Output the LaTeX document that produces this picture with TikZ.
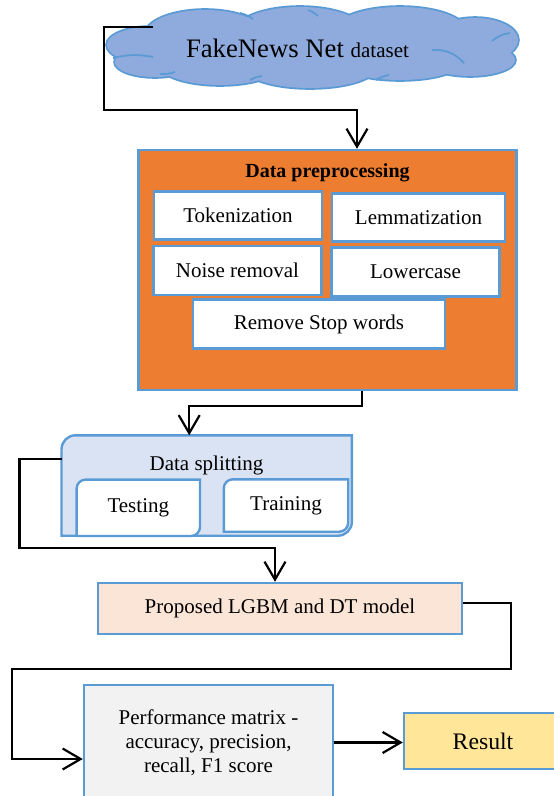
\documentclass[tikz,border=0pt]{standalone}
\usepackage{fontspec}
\setmainfont{Liberation Serif}
\usetikzlibrary{arrows.meta,backgrounds}

\definecolor{edgeblue}{HTML}{5B9BD5}
\definecolor{cloudfill}{HTML}{8FAADC}
\definecolor{prepfill}{HTML}{ED7D31}
\definecolor{splitfill}{HTML}{DAE3F3}
\definecolor{modelfill}{HTML}{FBE5D6}
\definecolor{perffill}{HTML}{F2F2F2}
\definecolor{resfill}{HTML}{FFE699}

\tikzset{
  box/.style={rectangle, draw=edgeblue, line width=2.4pt, inner sep=0pt, align=center},
  flow/.style={draw=black, line width=2.2pt, -{Straight Barb[length=18pt,width=21pt]}},
  curl/.style={draw=edgeblue, line width=1.8pt},
}

% puffs of the cloud: x/y/rx/ry
\def\puffs{150/-45/43/18, 155/-62/40/15, 205/-35/60/25, 300/-32/65/25, 400/-30/65/23,
  475/-40/43/22, 470/-60/45/16, 220/-65/60/20, 310/-68/65/20, 400/-63/60/17, 310/-48/150/30}

% box with round top left and bottom right corners, drawn round a node
\newcommand{\cutbox}[3]{%
  \draw[draw=edgeblue, line width=2.4pt, fill=#3] (#1.south west)
    -- ([yshift=-#2]#1.north west) arc[start angle=180, end angle=90, radius=#2]
    -- (#1.north east)
    -- ([yshift=#2]#1.south east) arc[start angle=0, end angle=-90, radius=#2]
    -- cycle;}

\begin{document}
\begin{tikzpicture}[x=1pt, y=1pt, font=\fontsize{21}{24}\selectfont]
  \useasboundingbox (0,0) rectangle (554,-796);
  \clip (0,0) rectangle (554,-796);

  % dataset cloud: outline of all puffs, then fill over the inner half
  \foreach \cx/\cy/\rx/\ry in \puffs
    \draw[edgeblue, line width=3.6pt] (\cx,\cy) ellipse[x radius=\rx, y radius=\ry];
  \foreach \cx/\cy/\rx/\ry in \puffs
    \fill[cloudfill] (\cx,\cy) ellipse[x radius=\rx, y radius=\ry];
  % inner curls of the cloud
  \draw[curl] (113,-58) to[bend left=12] (153,-57);
  \draw[curl] (160,-74) to[bend right=10] (175,-72);
  \draw[curl] (492,-41) to[bend left=15] (510,-33);
  \draw[curl] (432,-50) to[bend left=25] (464,-63);
  \draw[curl] (240,-13) to[bend left=10] (253,-19);
  \draw[curl] (308,-10) to[bend left=10] (318,-16);
  \draw[curl] (250,-80) to[bend left=10] (262,-76);
  \draw[curl] (376,-80) to[bend left=10] (389,-75);
  \node (ds) at (297.5,-48) {\fontsize{26.7}{30}\selectfont FakeNews Net \fontsize{21}{24}\selectfont dataset};

  % preprocessing block
  \node[box, fill=prepfill, minimum width=378pt, minimum height=240pt] (prep) at (327.5,-270) {};
  \node (preptitle) at (327.5,-173) {\fontsize{20}{24}\selectfont\bfseries Data preprocessing};
  \node[box, fill=white, minimum width=168pt, minimum height=48pt] (tok) at (238,-215.5) {Tokenization};
  \node[box, fill=white, minimum width=173pt, minimum height=48pt] (lem) at (418.5,-217.5) {Lemmatization};
  \node[box, fill=white, minimum width=168pt, minimum height=49pt] (noise) at (237.5,-270.5) {Noise removal};
  \node[box, fill=white, minimum width=168pt, minimum height=49pt] (lower) at (415.5,-272) {Lowercase};
  \node[box, fill=white, minimum width=252pt, minimum height=49pt] (stop) at (319,-324) {Remove Stop words};

  % splitting block
  \node[minimum width=290pt, minimum height=100pt] (split) at (206.7,-485.5) {};
  \node (splitname) at (206.5,-465) {Data splitting};
  \node[minimum width=123pt, minimum height=56pt] (test) at (138.3,-507.8) {Testing};
  \node[minimum width=124pt, minimum height=52pt] (train) at (286,-505.5) {Training};
  \begin{pgfonlayer}{background}
    \cutbox{split}{14pt}{splitfill}
    \cutbox{test}{9pt}{white}
    \cutbox{train}{9pt}{white}
  \end{pgfonlayer}

  % model, evaluation and result
  \node[box, fill=modelfill, minimum width=364pt, minimum height=51pt] (prop) at (280,-608.5) {Proposed LGBM and DT model};
  \node[box, fill=perffill, minimum width=249pt, minimum height=115pt] (perf) at (208.5,-742.5)
    {Performance matrix -\\accuracy, precision,\\recall, F1 score};
  \node[box, fill=resfill, minimum width=158pt, minimum height=56pt, font=\fontsize{23.7}{28}\selectfont] (res) at (483,-741) {Result};

  % bends of the connectors
  \coordinate (dsout) at ([shift={(-144.5pt,21pt)}]ds.center);
  \coordinate (k1) at (104,-110);
  \coordinate (k2) at (19.5,-548);
  \coordinate (k3) at (511,-669);
  \coordinate (k4) at (12,-669);

  % connectors
  \draw[flow] (dsout) -| (k1) -| ([xshift=29.5pt]prep.north);
  \draw[flow] ([xshift=34.5pt]prep.south) -- ++(0,-15) -| ([xshift=-17.5pt]split.north);
  \draw[flow] ([yshift=26.5pt]split.west) -| (k2) -| ([xshift=-5pt]prop.north);
  \draw[flow] ([yshift=5.5pt]prop.east) -| (k3) -- (k4) |- ([yshift=-16.5pt]perf.west);
  \draw[flow] (perf.east) -- (perf.east -| res.west);
\end{tikzpicture}
\end{document}
